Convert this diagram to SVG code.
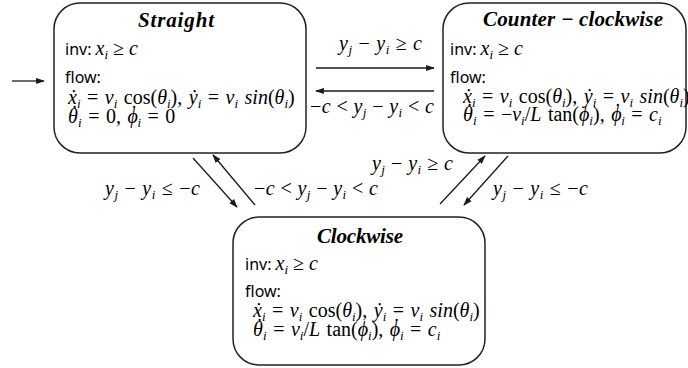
<svg xmlns="http://www.w3.org/2000/svg" width="688" height="368" viewBox="0 0 688 368">
<defs>
<style>
.box{fill:#fff;stroke:#222;stroke-width:1.5}
.ln{stroke:#1a1a1a;stroke-width:1.3;fill:none;marker-end:url(#ah)}
.t{font-family:"Liberation Serif","DejaVu Serif",serif;font-weight:bold;font-style:italic;font-size:21px;fill:#000;text-anchor:middle}
.sf{font-family:"Noto Sans","Open Sans","Liberation Sans",sans-serif;font-size:16px;fill:#000}
.m{font-family:"Liberation Serif","DejaVu Serif",serif;font-size:20px;fill:#000}
.e{word-spacing:1.5px}
.i{font-style:italic}
.s{font-style:italic;font-size:13px}
</style>
<marker id="ah" viewBox="0 0 10 8" refX="9" refY="4" markerWidth="9" markerHeight="7" markerUnits="userSpaceOnUse" orient="auto">
<path d="M0,0.5 L10,4 L0,7.5 z" fill="#1a1a1a"/>
</marker>
</defs>

<g id="connectors">
<line class="ln" x1="12" y1="81" x2="44" y2="81"/>
<line class="ln" x1="316" y1="68" x2="434" y2="68"/>
<line class="ln" x1="434" y1="91" x2="316" y2="91"/>
<line class="ln" x1="193" y1="158" x2="237" y2="207"/>
<line class="ln" x1="255" y1="205" x2="213" y2="155"/>
<line class="ln" x1="440" y1="204" x2="485" y2="156"/>
<line class="ln" x1="508" y1="156" x2="464" y2="205"/>
<text class="m" x="339" y="50" textLength="83"><tspan class="i">y</tspan><tspan class="s" dy="4">j</tspan><tspan dy="-4"> − </tspan><tspan class="i">y</tspan><tspan class="s" dy="4">i</tspan><tspan dy="-4"> ≥ </tspan><tspan class="i">c</tspan></text>
<text class="m" x="310" y="113" textLength="124"><tspan>−</tspan><tspan class="i">c</tspan><tspan> &lt; </tspan><tspan class="i">y</tspan><tspan class="s" dy="4">j</tspan><tspan dy="-4"> − </tspan><tspan class="i">y</tspan><tspan class="s" dy="4">i</tspan><tspan dy="-4"> &lt; </tspan><tspan class="i">c</tspan></text>
<text class="m" x="105" y="195" textLength="95"><tspan class="i">y</tspan><tspan class="s" dy="4">j</tspan><tspan dy="-4"> − </tspan><tspan class="i">y</tspan><tspan class="s" dy="4">i</tspan><tspan dy="-4"> ≤ −</tspan><tspan class="i">c</tspan></text>
<text class="m" x="254" y="195" textLength="124"><tspan>−</tspan><tspan class="i">c</tspan><tspan> &lt; </tspan><tspan class="i">y</tspan><tspan class="s" dy="4">j</tspan><tspan dy="-4"> − </tspan><tspan class="i">y</tspan><tspan class="s" dy="4">i</tspan><tspan dy="-4"> &lt; </tspan><tspan class="i">c</tspan></text>
<text class="m" x="372" y="170" textLength="81"><tspan class="i">y</tspan><tspan class="s" dy="4">j</tspan><tspan dy="-4"> − </tspan><tspan class="i">y</tspan><tspan class="s" dy="4">i</tspan><tspan dy="-4"> ≥ </tspan><tspan class="i">c</tspan></text>
<text class="m" x="493" y="195" textLength="95"><tspan class="i">y</tspan><tspan class="s" dy="4">j</tspan><tspan dy="-4"> − </tspan><tspan class="i">y</tspan><tspan class="s" dy="4">i</tspan><tspan dy="-4"> ≤ −</tspan><tspan class="i">c</tspan></text>
</g>

<g id="straight">
<rect class="box" x="54" y="3" width="252" height="150" rx="26"/>
<text class="t" x="176" y="27" textLength="76">Straight</text>
<text x="65" y="55"><tspan class="sf">inv: </tspan><tspan class="m i">x</tspan><tspan class="m s" dy="4">i</tspan><tspan class="m" dy="-4"> ≥ </tspan><tspan class="m i">c</tspan></text>
<text class="sf" x="65" y="83">flow:</text>
<text class="m e" x="68" y="104"><tspan class="i">ẋ</tspan><tspan class="s" dy="4">i</tspan><tspan dy="-4"> = </tspan><tspan class="i">v</tspan><tspan class="s" dy="4">i</tspan><tspan dy="-4"> cos(</tspan><tspan class="i">θ</tspan><tspan class="s" dy="4">i</tspan><tspan dy="-4">), </tspan><tspan class="i">ẏ</tspan><tspan class="s" dy="4">i</tspan><tspan dy="-4"> = </tspan><tspan class="i">v</tspan><tspan class="s" dy="4">i</tspan><tspan class="i" dy="-4"> sin</tspan><tspan>(</tspan><tspan class="i">θ</tspan><tspan class="s" dy="4">i</tspan><tspan dy="-4">)</tspan></text>
<text class="m e" x="68" y="123"><tspan class="i">θ</tspan><tspan dx="-6.5" dy="-3">˙</tspan><tspan class="s" dy="7">i</tspan><tspan dy="-4"> = 0, </tspan><tspan class="i">ϕ</tspan><tspan dx="-7" dy="-3">˙</tspan><tspan class="s" dy="7">i</tspan><tspan dy="-4"> = 0</tspan></text>
</g>

<g id="counter-clockwise">
<rect class="box" x="443" y="3" width="243" height="150" rx="26"/>
<text class="t" x="573" y="26" textLength="180">Counter − clockwise</text>
<text x="450" y="55"><tspan class="sf">inv: </tspan><tspan class="m i">x</tspan><tspan class="m s" dy="4">i</tspan><tspan class="m" dy="-4"> ≥ </tspan><tspan class="m i">c</tspan></text>
<text class="sf" x="450" y="83">flow:</text>
<text class="m e" x="463" y="103"><tspan class="i">ẋ</tspan><tspan class="s" dy="4">i</tspan><tspan dy="-4"> = </tspan><tspan class="i">v</tspan><tspan class="s" dy="4">i</tspan><tspan dy="-4"> cos(</tspan><tspan class="i">θ</tspan><tspan class="s" dy="4">i</tspan><tspan dy="-4">), </tspan><tspan class="i">ẏ</tspan><tspan class="s" dy="4">i</tspan><tspan dy="-4"> = </tspan><tspan class="i">v</tspan><tspan class="s" dy="4">i</tspan><tspan class="i" dy="-4"> sin</tspan><tspan>(</tspan><tspan class="i">θ</tspan><tspan class="s" dy="4">i</tspan><tspan dy="-4">)</tspan></text>
<text class="m e" x="463" y="121"><tspan class="i">θ</tspan><tspan dx="-6.5" dy="-3">˙</tspan><tspan class="s" dy="7">i</tspan><tspan dy="-4"> = −</tspan><tspan class="i">v</tspan><tspan class="s" dy="4">i</tspan><tspan dy="-4">/</tspan><tspan class="i">L</tspan><tspan> tan(</tspan><tspan class="i">ϕ</tspan><tspan class="s" dy="4">i</tspan><tspan dy="-4">), </tspan><tspan class="i">ϕ</tspan><tspan dx="-7" dy="-3">˙</tspan><tspan class="s" dy="7">i</tspan><tspan dy="-4"> = </tspan><tspan class="i">c</tspan><tspan class="s" dy="4">i</tspan></text>
</g>

<g id="clockwise">
<rect class="box" x="233" y="217" width="252" height="148" rx="26"/>
<text class="t" x="360" y="243" textLength="86">Clockwise</text>
<text x="245" y="270"><tspan class="sf">inv: </tspan><tspan class="m i">x</tspan><tspan class="m s" dy="4">i</tspan><tspan class="m" dy="-4"> ≥ </tspan><tspan class="m i">c</tspan></text>
<text class="sf" x="245" y="297">flow:</text>
<text class="m e" x="253" y="317"><tspan class="i">ẋ</tspan><tspan class="s" dy="4">i</tspan><tspan dy="-4"> = </tspan><tspan class="i">v</tspan><tspan class="s" dy="4">i</tspan><tspan dy="-4"> cos(</tspan><tspan class="i">θ</tspan><tspan class="s" dy="4">i</tspan><tspan dy="-4">), </tspan><tspan class="i">ẏ</tspan><tspan class="s" dy="4">i</tspan><tspan dy="-4"> = </tspan><tspan class="i">v</tspan><tspan class="s" dy="4">i</tspan><tspan class="i" dy="-4"> sin</tspan><tspan>(</tspan><tspan class="i">θ</tspan><tspan class="s" dy="4">i</tspan><tspan dy="-4">)</tspan></text>
<text class="m e" x="253" y="336"><tspan class="i">θ</tspan><tspan dx="-6.5" dy="-3">˙</tspan><tspan class="s" dy="7">i</tspan><tspan dy="-4"> = </tspan><tspan class="i">v</tspan><tspan class="s" dy="4">i</tspan><tspan dy="-4">/</tspan><tspan class="i">L</tspan><tspan> tan(</tspan><tspan class="i">ϕ</tspan><tspan class="s" dy="4">i</tspan><tspan dy="-4">), </tspan><tspan class="i">ϕ</tspan><tspan dx="-7" dy="-3">˙</tspan><tspan class="s" dy="7">i</tspan><tspan dy="-4"> = </tspan><tspan class="i">c</tspan><tspan class="s" dy="4">i</tspan></text>
</g>
</svg>
